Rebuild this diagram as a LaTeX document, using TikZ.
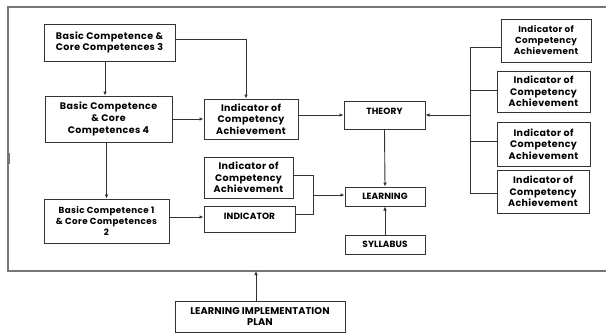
\documentclass[tikz,border=0pt]{standalone}
\usepackage{fontspec}
\setmainfont{Poppins}
\newfontfamily\boxfont{Poppins}[LetterSpace=4]
\newfontfamily\capfont{Poppins}[LetterSpace=1]
\usetikzlibrary{arrows.meta}
\definecolor{boxline}{HTML}{333333}
\definecolor{frameline}{HTML}{777777}
\begin{document}
\begin{tikzpicture}[x=1pt,y=-1pt,
  box/.style={draw=boxline, line width=1pt, fill=white, align=center, inner sep=1pt,
    font=\boxfont\fontsize{9.5pt}{11.7pt}\selectfont\bfseries, text=black},
  smallbox/.style={box, font=\boxfont\fontsize{8.8pt}{11pt}\selectfont\bfseries},
  capbox/.style={box, font=\capfont\fontsize{9pt}{11.2pt}\selectfont\bfseries},
  conn/.style={draw=boxline, line width=0.9pt},
  arr/.style={conn, -{Latex[length=4pt,width=3.6pt]}},
  frame/.style={draw=frameline, line width=1.4pt}
]
\useasboundingbox (0,0) rectangle (606,333);
% outer frame
\draw[frame] (606,7) -- (8,7) -- (8,271) -- (606,271);
\draw[frameline, line width=2pt] (9.3,153) -- (9.3,164);

% nodes
\node[box, minimum width=131pt, minimum height=37pt] (bc3) at (109.5,42.5) {Basic Competence \&\\Core Competences 3};
\node[box, minimum width=127pt, minimum height=46pt] (bc4) at (108.5,119) {Basic Competence\\\& Core\\Competences 4};
\node[box, minimum width=94pt, minimum height=40pt] (ica1) at (251,119) {Indicator of\\Competency\\Achievement};
\node[capbox, minimum width=81pt, minimum height=28pt, text depth=7pt] (theory) at (384.5,115) {THEORY};
\node[smallbox, minimum width=90pt, minimum height=43pt] (r1) at (546,40.5) {Indicator of\\Competency\\Achievement};
\node[box, minimum width=93pt, minimum height=41pt] (r2) at (543.5,91.5) {Indicator of\\Competency\\Achievement};
\node[box, minimum width=93pt, minimum height=44pt] (r3) at (543.5,144) {Indicator of\\Competency\\Achievement};
\node[box, minimum width=92pt, minimum height=43pt] (r4) at (543,191.5) {Indicator of\\Competency\\Achievement};
\node[box, minimum width=89pt, minimum height=41pt] (ica2) at (248.5,177.5) {Indicator of\\Competency\\Achievement};
\node[capbox, minimum width=91pt, minimum height=26pt, text depth=5.5pt] (ind) at (249.5,219) {INDICATOR};
\node[smallbox, minimum width=125pt, minimum height=44pt] (bc1) at (106.5,221) {Basic Competence 1\\\& Core Competences\\2};
\node[capbox, minimum width=80pt, minimum height=19pt] (learn) at (385,196.5) {LEARNING};
\node[capbox, minimum width=80pt, minimum height=19pt] (syl) at (385,244.5) {SYLLABUS};
\node[capbox, font=\capfont\fontsize{9.8pt}{11.2pt}\selectfont\bfseries, minimum width=170pt, minimum height=31pt] (lip) at (260,316.5) {LEARNING IMPLEMENTATION\\PLAN};

% coordinates
\coordinate (jt) at (313,175);
\coordinate (jb) at (313,214);
\coordinate (jm) at (313,195);
\coordinate (bt) at (470,47);
\coordinate (bb) at (470,193);
\coordinate (fb) at (256,271);

% connectors
\draw[arr] ([xshift=-4.5pt]bc3.south) -- ([xshift=-4.5pt]bc3.south |- bc4.north);
\draw[arr] ([yshift=3.5pt]bc3.east) -| ([xshift=-5pt]ica1.north);
\draw[arr] (bc4.east) -- (ica1.west);
\draw[arr] (bc4.south -| bc1.north) -- (bc1.north);
\draw[arr] ([yshift=2pt]ind.west -| bc1.east) -- ([yshift=2pt]ind.west);
\draw[arr] (ica1.east |- theory.west) -- (theory.west);
\draw[arr] (theory.south) -- (learn.north);
\draw[arr] (syl.north) -- (learn.south);
\draw[conn] (ica2.east |- jt) -- (jt) -- (jb) -- (ind.east |- jb);
\draw[arr] (jm) -- (learn.west |- jm);
\draw[conn] (r1.west |- bt) -- (bt) -- (bb) -- (r4.west |- bb);
\draw[conn] ([yshift=1.5pt]r2.west) -- ([yshift=1.5pt]r2.west -| bt);
\draw[conn] ([yshift=3pt]r3.west) -- ([yshift=3pt]r3.west -| bt);
\draw[arr] (bt |- theory.east) -- (theory.east);
\draw[arr] (lip.north -| fb) -- (fb);
\end{tikzpicture}
\end{document}
